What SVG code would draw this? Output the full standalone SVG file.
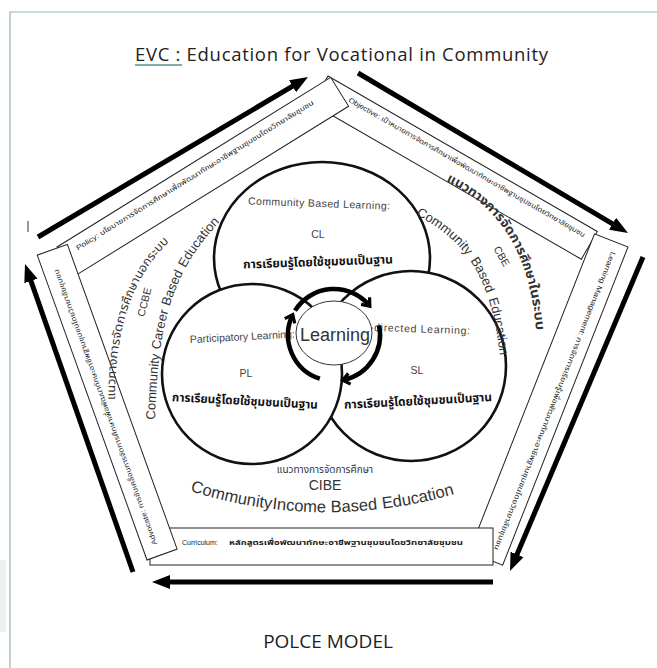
<svg xmlns="http://www.w3.org/2000/svg" width="657" height="668" viewBox="0 0 657 668">
<defs>
<style>
.band{fill:#fff;stroke:#222;stroke-width:1}
.bt{font-family:'Liberation Sans','Noto Sans Thai','Noto Sans',sans-serif;font-size:7px;fill:#222}
.circ{fill:#fff;stroke:#111;stroke-width:2.6}
.ct{font-family:'Liberation Sans','Noto Sans Thai',sans-serif;font-size:10.5px;fill:#444}
.th{font-family:'Liberation Sans','Noto Sans Thai',sans-serif;font-weight:bold;font-size:12px;fill:#111}
.arc{font-family:'Liberation Sans','Noto Sans Thai',sans-serif;fill:#333}
.big{stroke:#000;stroke-width:5;fill:none;marker-end:url(#bh)}
.cyc{stroke:#000;stroke-width:4.5;fill:none;marker-end:url(#ch)}
.ttl{font-family:'Open Sans','Noto Sans',sans-serif;fill:#222}
</style>
<marker id="bh" markerUnits="userSpaceOnUse" markerWidth="18" markerHeight="14" viewBox="0 0 18 14" refX="8" refY="7" orient="auto"><path d="M0,0 L18,7 L0,14 z" fill="#000"/></marker>
<marker id="ch" markerUnits="userSpaceOnUse" markerWidth="14" markerHeight="14" viewBox="0 0 14 14" refX="9" refY="7" orient="auto"><path d="M3,1.5 L10,7 L3,12.5" fill="none" stroke="#000" stroke-width="3.2"/></marker>
<path id="pLTh" d="M115,400 C115,340 127,280 172,239"/>
<path id="pLCo" d="M155,420 C158,330 169,272 223,219"/>
<path id="pRTh" d="M446,181 C499,207 533,252 537,346"/>
<path id="pRCo" d="M416,215 C463,239 492,275 500,358"/>
<path id="pBCo" d="M190,491 Q325,533 462,492"/>
</defs>
<rect width="657" height="668" fill="#fff"/>
<rect x="0" y="560" width="6" height="72" fill="#efefef"/>
<path d="M10,668 V12 H657" fill="none" stroke="#93b893" stroke-width="1.2"/>

<g id="objective" transform="translate(328,76) rotate(30)">
<rect class="band" width="311" height="32"/>
<text class="bt" x="30" y="12" textLength="272" lengthAdjust="spacingAndGlyphs">Objective: เป้าหมายการจัดการศึกษาเพื่อพัฒนาทักษะอาชีพฐานชุมชนโดยวิทยาลัยชุมชน</text>
</g>
<g id="policy" transform="translate(57,247) rotate(-31.8)">
<rect class="band" width="322" height="34"/>
<text class="bt" x="16" y="14" textLength="278" lengthAdjust="spacingAndGlyphs">Policy: นโยบายการจัดการศึกษาเพื่อพัฒนาทักษะอาชีพฐานชุมชนโดยวิทยาลัยชุมชน</text>
</g>
<g id="learning-management" transform="translate(628,247) rotate(111.5)">
<rect class="band" width="342" height="36"/>
<text class="bt" x="10" y="14" textLength="320" lengthAdjust="spacingAndGlyphs">Learning Management: การจัดการเรียนรู้เพื่อพัฒนาทักษะอาชีพฐานชุมชนโดยวิทยาลัยชุมชน</text>
</g>
<g id="curriculum">
<rect class="band" x="150" y="528" width="343" height="37"/>
<text class="bt" x="182" y="545" font-size="8">Curriculum:</text>
<text class="bt" x="229" y="545" font-size="10.5" font-weight="bold" textLength="234" lengthAdjust="spacingAndGlyphs">หลักสูตรเพื่อพัฒนาทักษะอาชีพฐานชุมชนโดยวิทยาลัยชุมชน</text>
</g>
<g id="advocate" transform="translate(147,560) rotate(-109.8)">
<rect class="band" width="324" height="32"/>
<text class="bt" x="12" y="15" textLength="292" lengthAdjust="spacingAndGlyphs">Advocate: การขับเคลื่อนการจัดการศึกษาเพื่อพัฒนาทักษะอาชีพฐานชุมชนโดยวิทยาลัยชุมชน</text>
</g>

<g id="cl">
<ellipse class="circ" cx="322" cy="258" rx="108" ry="96"/>
<text class="ct" x="319" y="207" text-anchor="middle" textLength="142" transform="rotate(2 319 204)">Community Based Learning:</text>
<text class="ct" x="318" y="238" text-anchor="middle" font-size="10">CL</text>
<text class="th" x="318" y="266" text-anchor="middle" textLength="150" lengthAdjust="spacingAndGlyphs" transform="rotate(-2 318 262)">การเรียนรู้โดยใช้ชุมชนเป็นฐาน</text>
</g>
<g id="sl">
<circle class="circ" cx="411" cy="366" r="95"/>
<text class="ct" x="349" y="330" textLength="121" transform="rotate(2 349 330)">Self-directed Learning:</text>
<text class="ct" x="417" y="374" text-anchor="middle" font-size="10">SL</text>
<text class="th" x="418" y="405" text-anchor="middle" textLength="148" lengthAdjust="spacingAndGlyphs" transform="rotate(-3 418 400)">การเรียนรู้โดยใช้ชุมชนเป็นฐาน</text>
</g>
<g id="pl">
<circle class="circ" cx="252" cy="374" r="90"/>
<text class="ct" x="190" y="343" font-size="11" transform="rotate(-3 190 343)">Participatory Learning:</text>
<text class="ct" x="246" y="377" text-anchor="middle" font-size="10">PL</text>
<text class="th" x="245" y="405" text-anchor="middle" textLength="146" lengthAdjust="spacingAndGlyphs" transform="rotate(3 245 400)">การเรียนรู้โดยใช้ชุมชนเป็นฐาน</text>
</g>

<g id="ccbe">
<text class="arc" font-size="12"><textPath href="#pLTh" textLength="41" lengthAdjust="spacingAndGlyphs">แนวทาง</textPath></text>
<text class="arc" font-size="12"><textPath href="#pLTh" startOffset="41" textLength="55" lengthAdjust="spacingAndGlyphs">การจัดการ</textPath></text>
<text class="arc" font-size="12"><textPath href="#pLTh" startOffset="96" textLength="28" lengthAdjust="spacingAndGlyphs">ศึกษา</textPath></text>
<text class="arc" font-size="12"><textPath href="#pLTh" startOffset="124" textLength="48" lengthAdjust="spacingAndGlyphs">นอกระบบ</textPath></text>
<text class="arc" font-size="10.5" x="0" y="4" text-anchor="middle" transform="translate(144,302) rotate(-76)">CCBE</text>
<text class="arc" font-size="13"><textPath href="#pLCo">Community</textPath></text>
<text class="arc" font-size="13"><textPath href="#pLCo" startOffset="70.3">Career</textPath></text>
<text class="arc" font-size="13"><textPath href="#pLCo" startOffset="114.6">Based</textPath></text>
<text class="arc" font-size="13"><textPath href="#pLCo" startOffset="156.1">Education</textPath></text>
</g>
<g id="cbe">
<text class="arc" font-size="13" font-weight="bold" fill="#222"><textPath href="#pRTh" textLength="46" lengthAdjust="spacingAndGlyphs">แนวทาง</textPath></text>
<text class="arc" font-size="13" font-weight="bold" fill="#222"><textPath href="#pRTh" startOffset="46" textLength="61" lengthAdjust="spacingAndGlyphs">การจัดการ</textPath></text>
<text class="arc" font-size="13" font-weight="bold" fill="#222"><textPath href="#pRTh" startOffset="107" textLength="31" lengthAdjust="spacingAndGlyphs">ศึกษา</textPath></text>
<text class="arc" font-size="13" font-weight="bold" fill="#222"><textPath href="#pRTh" startOffset="138" textLength="46" lengthAdjust="spacingAndGlyphs">ในระบบ</textPath></text>
<text class="arc" font-size="10.5" x="0" y="4" text-anchor="middle" transform="translate(502,256) rotate(60)">CBE</text>
<text class="arc" font-size="13"><textPath href="#pRCo">Community</textPath></text>
<text class="arc" font-size="13"><textPath href="#pRCo" startOffset="71.5">Based</textPath></text>
<text class="arc" font-size="13"><textPath href="#pRCo" startOffset="114.2">Education</textPath></text>
</g>
<g id="cibe">
<text class="arc" font-size="10" x="325" y="473" text-anchor="middle">แนวทางการจัดการศึกษา</text>
<text class="arc" font-size="14" x="325" y="490" text-anchor="middle">CIBE</text>
<text class="arc" font-size="16.5"><textPath href="#pBCo">Community</textPath></text>
<text class="arc" font-size="16.5"><textPath href="#pBCo" startOffset="84">Income</textPath></text>
<text class="arc" font-size="16.5"><textPath href="#pBCo" startOffset="143">Based</textPath></text>
<text class="arc" font-size="16.5"><textPath href="#pBCo" startOffset="195">Education</textPath></text>
</g>

<g id="learning">
<ellipse cx="334" cy="333" rx="38" ry="32" fill="#fff" stroke="#333" stroke-width="1"/>
<text x="335" y="341" text-anchor="middle" font-family="'Liberation Sans',sans-serif" font-size="18" fill="#333">Learning</text>
</g>

<g id="connectors">
<path class="big" d="M38,237 L299.4,82.1"/>
<path class="big" d="M358,73 L619.4,227.9"/>
<path class="big" d="M643,257 L513.9,561.8"/>
<path class="big" d="M493,582 L162,582"/>
<path class="big" d="M133,572 L28.3,273.4"/>
<path class="cyc" d="M295,310.6 A46,46 0 0 1 369.2,305.4"/>
<path class="cyc" d="M379,325.4 A46,46 0 0 1 343.6,380"/>
<path class="cyc" d="M319.8,378.7 A46,46 0 0 1 292.3,315.5"/>
</g>
<line x1="28" y1="221" x2="28" y2="232" stroke="#333" stroke-width="1"/>

<g id="title">
<text class="ttl" x="135" y="61" font-size="18.5" textLength="413">EVC : Education for Vocational in Community</text>
<line x1="135" y1="65" x2="182" y2="65" stroke="#5f8f8f" stroke-width="1.4"/>
</g>
<text class="ttl" x="328" y="648" text-anchor="middle" font-size="19">POLCE MODEL</text>
</svg>
